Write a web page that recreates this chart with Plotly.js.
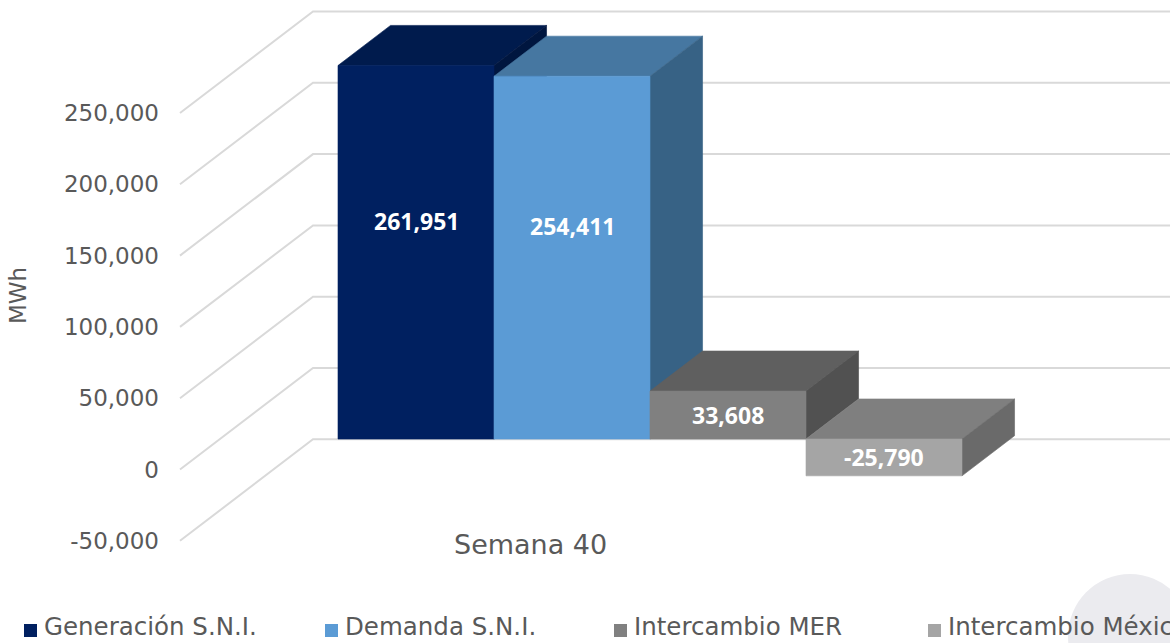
<!DOCTYPE html>
<html><head><meta charset="utf-8">
<script src="https://cdn.plot.ly/plotly-3.0.1.min.js"></script>
<style>html,body{margin:0;padding:0;background:#fff;overflow:hidden}</style>
</head><body><div id="chart" style="width:1170px;height:643px"></div>
<script>
// ---------- data ----------
const category = 'Semana 40';
const seriesNames = ['Generación S.N.I.', 'Demanda S.N.I.', 'Intercambio MER', 'Intercambio México'];
const seriesValues = [261951, 254411, 33608, -25790];
const frontColors = ['#002060', '#5b9bd5', '#808080', '#a5a5a5'];
const topColors = ['#001b4d', '#4677a1', '#5f5f5f', '#7f7f7f'];
const sideColors = ['#00163f', '#376285', '#515151', '#6a6a6a'];
const tickValues = [-50000, 0, 50000, 100000, 150000, 200000, 250000];
const tickLabels = ['-50,000', '0', '50,000', '100,000', '150,000', '200,000', '250,000'];
const yAxisTitle = 'MWh';

// ---------- layout geometry ----------
const W = 1170, H = 643;
const PLOT_LEFT = 160;
const PX_PER_UNIT = 71.3 / 50000;
const ZERO_PX = 469.5;
const yTop = ZERO_PX / PX_PER_UNIT;
const yBot = -(H - ZERO_PX) / PX_PER_UNIT;
const FLOOR_X0 = 180, WALL_X0 = 313;
const DEPTH_DX = WALL_X0 - FLOOR_X0;
const DEPTH_DY = 101.5 / PX_PER_UNIT;
const BAR_F0 = 0.30, BAR_F1 = 0.695;
const BAR_W = 156;
const BAR_X0 = 338;
const px2paperX = px => (px - PLOT_LEFT) / (W - PLOT_LEFT);
const py2paperY = py => 1 - py / H;
const FONT = 'DejaVu Sans';
const TXT = '#595959';

const traces = [];
// gridlines (floor diagonals + back wall)
const gx = [], gy = [];
tickValues.forEach(t => {
  gx.push(FLOOR_X0, WALL_X0, W + 5, null);
  gy.push(t, t + DEPTH_DY, t + DEPTH_DY, null);
});
traces.push({type: 'scatter', mode: 'lines', x: gx, y: gy, line: {color: '#d9d9d9', width: 2},
  hoverinfo: 'skip', showlegend: false, connectgaps: false});

function poly(xs, ys, c, name) {
  traces.push({type: 'scatter', mode: 'lines', name: name, x: xs.concat([xs[0]]), y: ys.concat([ys[0]]),
    fill: 'toself', fillcolor: c, line: {color: c, width: 0.6}, hoverinfo: 'skip', showlegend: false});
}

const annotations = [];
const b = BAR_F0 * DEPTH_DY;
const ddx = (BAR_F1 - BAR_F0) * DEPTH_DX;
const ddy = (BAR_F1 - BAR_F0) * DEPTH_DY;
seriesValues.forEach((v, i) => {
  const x0 = BAR_X0 + i * BAR_W, x1 = x0 + BAR_W;
  const t = b + Math.max(v, 0), u = b + Math.min(v, 0);
  poly([x0, x1, x1 + ddx, x0 + ddx], [t, t, t + ddy, t + ddy], topColors[i], seriesNames[i]);
  poly([x1, x1 + ddx, x1 + ddx, x1], [t, t + ddy, u + ddy, u], sideColors[i], seriesNames[i]);
  poly([x0, x1, x1, x0], [u, u, t, t], frontColors[i], seriesNames[i]);
  const ly = b + v / 2 + (Math.abs(v) > 100000 ? 22000 : 0);
  annotations.push({xref: 'x', yref: 'y', x: (x0 + x1) / 2, y: ly, showarrow: false,
    text: '<b>' + v.toLocaleString('en-US') + '</b>',
    font: {family: 'Open Sans', size: 23, color: '#ffffff'}, xanchor: 'center', yanchor: 'middle'});
});

// category label
annotations.push({xref: 'paper', yref: 'paper', x: px2paperX(530), y: py2paperY(544), showarrow: false,
  text: category, font: {family: FONT, size: 27, color: TXT}, xanchor: 'center', yanchor: 'middle'});
// y title
annotations.push({xref: 'paper', yref: 'paper', x: px2paperX(18), y: py2paperY(296), showarrow: false,
  text: yAxisTitle, textangle: -90, font: {family: FONT, size: 23, color: TXT}, xanchor: 'center', yanchor: 'middle'});

// legend
const legendLeft = [24, 325, 614, 928];
const shapes = [];
shapes.push({type: 'circle', layer: 'below', xref: 'paper', yref: 'paper',
  x0: px2paperX(1068), x1: px2paperX(1192), y0: py2paperY(699), y1: py2paperY(574),
  fillcolor: '#ebebef', line: {width: 0}});
seriesNames.forEach((n, i) => {
  shapes.push({type: 'rect', xref: 'paper', yref: 'paper',
    x0: px2paperX(legendLeft[i]), x1: px2paperX(legendLeft[i] + 13),
    y0: py2paperY(637), y1: py2paperY(624), fillcolor: frontColors[i], line: {width: 0}});
  annotations.push({xref: 'paper', yref: 'paper', x: px2paperX(legendLeft[i] + 18), y: py2paperY(643),
    showarrow: false, text: n, font: {family: FONT, size: 24.5, color: TXT}, xanchor: 'left', yanchor: 'bottom'});
});

const layout = {
  width: W, height: H,
  margin: {l: PLOT_LEFT, r: 0, t: 0, b: 0},
  paper_bgcolor: '#ffffff', plot_bgcolor: 'rgba(0,0,0,0)',
  font: {family: FONT, color: TXT},
  showlegend: false,
  xaxis: {range: [PLOT_LEFT, W], visible: false, fixedrange: true},
  yaxis: {range: [yBot, yTop], tickvals: tickValues, ticktext: tickLabels, showgrid: false, zeroline: false,
    showline: false, ticks: '', tickfont: {family: FONT, size: 23, color: TXT}, fixedrange: true, automargin: false},
  shapes: shapes,
  annotations: annotations
};
Plotly.newPlot('chart', traces, layout, {displayModeBar: false, staticPlot: true});
</script>
</body></html>
